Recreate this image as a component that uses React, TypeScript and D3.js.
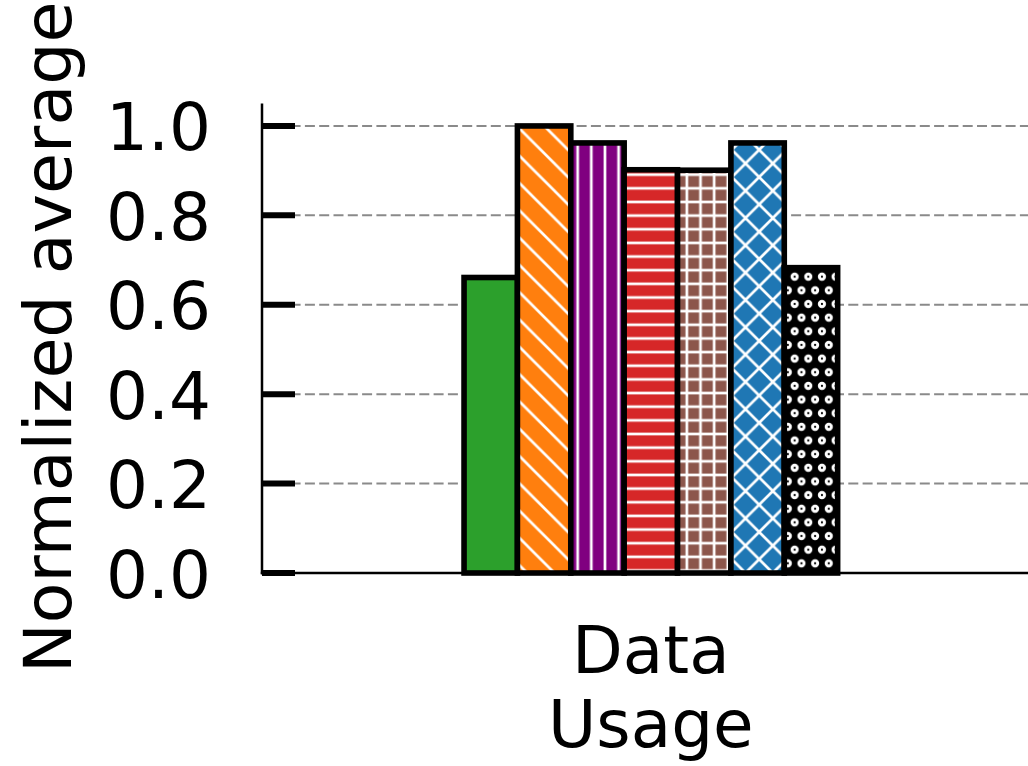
import React from "react";
import * as d3 from "d3";

const categories = ["Data Usage"];
const series = ["S1", "S2", "S3", "S4", "S5", "S6", "S7"];
const values = [0.661, 1.0, 0.962, 0.902, 0.901, 0.962, 0.683];
const colors = ["#2ca02c", "#ff7f0e", "#800080", "#d62728", "#8c564b", "#1f77b4", "#000000"];
const hatches = ["", "\\", "|", "-", "+", "x", "o"];
const yTicks = [0, 0.2, 0.4, 0.6, 0.8, 1.0];
const yLabel = "Normalized average";

const W = 1028;
const H = 766;
const FONT = "'DejaVu Sans', sans-serif";

const S = 13.65; // hatch spacing
const D = S * 2; // diagonal spacing
const HLW = 2.7; // hatch line width

function Pattern({ id, hatch, color }: { id: string; hatch: string; color: string }) {
  const common = { stroke: "#ffffff", strokeWidth: HLW, fill: "none" };
  if (hatch === "|") {
    return (
      <pattern id={id} patternUnits="userSpaceOnUse" x={577.7 - S / 2} y={0} width={S} height={S}>
        <rect width={S} height={S} fill={color} />
        <line x1={S / 2} y1={-1} x2={S / 2} y2={S + 1} {...common} />
      </pattern>
    );
  }
  if (hatch === "-") {
    return (
      <pattern id={id} patternUnits="userSpaceOnUse" x={0} y={188.3 - S / 2} width={S} height={S}>
        <rect width={S} height={S} fill={color} />
        <line x1={-1} y1={S / 2} x2={S + 1} y2={S / 2} {...common} />
      </pattern>
    );
  }
  if (hatch === "+") {
    return (
      <pattern id={id} patternUnits="userSpaceOnUse" x={577.7 - S / 2} y={188.3 - S / 2} width={S} height={S}>
        <rect width={S} height={S} fill={color} />
        <line x1={S / 2} y1={-1} x2={S / 2} y2={S + 1} {...common} />
        <line x1={-1} y1={S / 2} x2={S + 1} y2={S / 2} {...common} />
      </pattern>
    );
  }
  const nw = `M-2,-2 L${D + 2},${D + 2} M${D - 2},-2 L${D + 2},2 M-2,${D - 2} L2,${D + 2}`;
  const ne = `M-2,${D + 2} L${D + 2},-2 M-2,2 L2,-2 M${D - 2},${D + 2} L${D + 2},${D - 2}`;
  if (hatch === "\\") {
    return (
      <pattern id={id} patternUnits="userSpaceOnUse" x={8.8} y={0} width={D} height={D}>
        <rect width={D} height={D} fill={color} />
        <path d={nw} {...common} />
      </pattern>
    );
  }
  if (hatch === "x") {
    return (
      <pattern id={id} patternUnits="userSpaceOnUse" x={8.45} y={-0.35} width={D} height={D}>
        <rect width={D} height={D} fill={color} />
        <path d={nw} {...common} />
        <path d={ne} {...common} />
      </pattern>
    );
  }
  if (hatch === "o") {
    return (
      <pattern id={id} patternUnits="userSpaceOnUse" x={794.7 - S / 2} y={276.7 - S / 2} width={S} height={2 * S}>
        <rect width={S} height={2 * S} fill={color} />
        <circle cx={S / 2} cy={S / 2} r={2.6} fill="none" stroke="#fff" strokeWidth={3.0} />
        <circle cx={0} cy={1.5 * S} r={2.6} fill="none" stroke="#fff" strokeWidth={3.0} />
        <circle cx={S} cy={1.5 * S} r={2.6} fill="none" stroke="#fff" strokeWidth={3.0} />
      </pattern>
    );
  }
  return (
    <pattern id={id} patternUnits="userSpaceOnUse" width={S} height={S}>
      <rect width={S} height={S} fill={color} />
    </pattern>
  );
}

export default function App() {
  const y = d3.scaleLinear().domain([0, 1.05]).range([573, 103.6]);
  const xGroup = d3.scaleBand<string>().domain(categories).range([262, 1039.7]).padding(0.351);
  const xSeries = d3.scaleBand<string>().domain(series).range([0, xGroup.bandwidth()]).padding(0);
  const xLeft = 262;
  const xRight = 1039.7;

  return (
    <svg
      width={W}
      height={H}
      viewBox={`0 0 ${W} ${H}`}
      style={{ position: "absolute", left: 0, top: 0, display: "block", background: "#fff" }}
    >
      <defs>
        {series.map((s, i) => (
          <Pattern key={s} id={`pat-${i}`} hatch={hatches[i]} color={colors[i]} />
        ))}
      </defs>
      <rect x={0} y={0} width={W} height={H} fill="#ffffff" />

      {/* grid */}
      {yTicks
        .filter((t) => t > 0)
        .map((t) => (
          <line
            key={`g${t}`}
            x1={xLeft}
            x2={xRight}
            y1={y(t)}
            y2={y(t)}
            stroke="#8a8a8a"
            strokeWidth={2}
            strokeDasharray="10,4.3"
          />
        ))}

      {/* bars */}
      {categories.map((c) => (
        <g key={c} transform={`translate(${xGroup(c)},0)`}>
          {series.map((s, i) => (
            <rect
              key={s}
              x={xSeries(s)}
              y={y(values[i])}
              width={xSeries.bandwidth()}
              height={y(0) - y(values[i])}
              fill={`url(#pat-${i})`}
              stroke="#000"
              strokeWidth={5.6}
            />
          ))}
        </g>
      ))}

      {/* spines */}
      <line x1={xLeft} x2={xLeft} y1={y(0) + 1.2} y2={y(1.05)} stroke="#000" strokeWidth={2.5} />
      <line x1={xLeft - 1.2} x2={xRight} y1={y(0)} y2={y(0)} stroke="#000" strokeWidth={2.5} />

      {/* y ticks */}
      {yTicks.map((t) => (
        <g key={`t${t}`}>
          <line x1={xLeft} x2={xLeft + 33} y1={y(t)} y2={y(t)} stroke="#000" strokeWidth={6} />
          <text
            x={211}
            y={y(t) + 24.5}
            textAnchor="end"
            fontFamily={FONT}
            fontSize={66}
            fill="#000"
          >
            {t.toFixed(1)}
          </text>
        </g>
      ))}

      {/* x category labels */}
      {categories.map((c) => {
        const cx = (xGroup(c) as number) + xGroup.bandwidth() / 2;
        const parts = c.split(" ");
        return (
          <text key={c} textAnchor="middle" fontFamily={FONT} fontSize={66} fill="#000">
            {parts.map((p, k) => (
              <tspan key={k} x={cx} y={673.3 + k * 73.4}>
                {p}
              </tspan>
            ))}
          </text>
        );
      })}

      {/* y label */}
      <text
        transform={`translate(71,673) rotate(-90)`}
        textAnchor="start"
        fontFamily={FONT}
        fontSize={66.6}
        fill="#000"
      >
        {yLabel}
      </text>
    </svg>
  );
}
